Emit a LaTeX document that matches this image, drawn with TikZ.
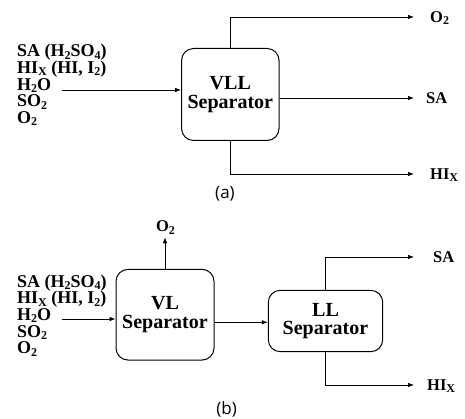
\documentclass[tikz,border=0pt]{standalone}
\usepackage{fontspec}
\setmainfont{Liberation Serif}
\newfontfamily\capfont{Open Sans}
\usetikzlibrary{arrows.meta}
\newcommand\sbx[1]{\raisebox{-0.3ex}{\fontsize{12}{12}\selectfont #1}}
\tikzset{
  sepbox/.style={draw, line width=1pt, rounded corners=12pt, align=center, inner sep=0pt,
                 font=\fontsize{20}{18.5}\selectfont\bfseries},
  flow/.style={line width=0.7pt, -{Latex[length=6pt,width=4.5pt]}},
  lbl/.style={inner sep=0pt, font=\fontsize{16.5}{16.5}\selectfont\bfseries},
  feed/.style={inner sep=0pt, align=left, font=\fontsize{18}{16.6}\selectfont\bfseries},
  captxt/.style={inner sep=0pt, font=\fontsize{17}{17}\selectfont\capfont}
}
\begin{document}
\begin{tikzpicture}[x=1pt,y=-1pt]
\useasboundingbox (0,0) rectangle (465,419);
% ---------- (a)
\node[sepbox, minimum width=97.5pt, minimum height=92pt] (vll) at (230.3,94.5) {VLL\\Separator};
\node[feed, anchor=west] (feeda) at (17,85) {SA (H\sbx{2}SO\sbx{4})\\HI\sbx{X} (HI, I\sbx{2})\\H\sbx{2}O\\SO\sbx{2}\\O\sbx{2}};
\coordinate (ina) at (62,90);
\draw[flow] (ina) -- (ina -| vll.west);
\coordinate (outo2a) at (414,17);
\coordinate (outsaa) at (414,98);
\coordinate (outhia) at (414,174);
\draw[flow] (vll.north) |- (outo2a);
\draw[flow] (vll.east |- outsaa) -- (outsaa);
\draw[flow] (vll.south) |- (outhia);
\node[lbl, anchor=west] (lo2a) at (430,18) {O\sbx{2}};
\node[lbl, anchor=west] (lsaa) at (426,98) {SA};
\node[lbl, anchor=west] (lhia) at (430,175) {HI\sbx{X}};
\node[captxt] (capa) at (225,194) {(a)};
% ---------- (b)
\node[sepbox, minimum width=98pt, minimum height=90.7pt] (vl) at (165,314.7) {VL\\Separator};
\node[sepbox, minimum width=114.4pt, minimum height=61.4pt] (ll) at (325.5,321) {LL\\Separator};
\node[feed, anchor=west] (feedb) at (17,315.5) {SA (H\sbx{2}SO\sbx{4})\\HI\sbx{X} (HI, I\sbx{2})\\H\sbx{2}O\\SO\sbx{2}\\O\sbx{2}};
\coordinate (inb) at (62,319);
\draw[flow] (inb) -- (inb -| vl.west);
\coordinate (outo2b) at (165,237.3);
\draw[flow] (vl.north) -- (outo2b);
\node[lbl] (lo2b) at (165.5,227.5) {O\sbx{2}};
\coordinate (mid) at (214,322.3);
\draw[flow] (vl.east |- mid) -- (ll.west |- mid);
\coordinate (outsab) at (414,257);
\coordinate (outhib) at (414,385);
\draw[flow] (ll.north) |- (outsab);
\draw[flow] (ll.south) |- (outhib);
\node[lbl, anchor=west] (lsab) at (433,257) {SA};
\node[lbl, anchor=west] (lhib) at (427,386) {HI\sbx{X}};
\node[captxt] (capb) at (226.7,409) {(b)};
\end{tikzpicture}
\end{document}
